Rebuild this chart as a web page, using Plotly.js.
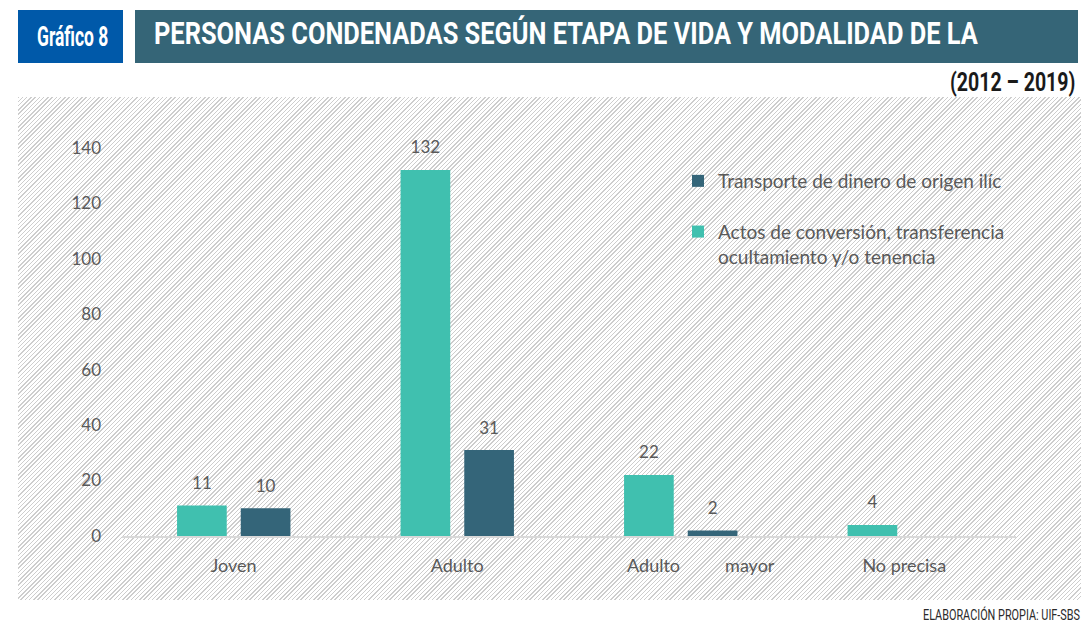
<!DOCTYPE html>
<html>
<head>
<meta charset="utf-8">
<script src="https://cdn.plot.ly/plotly-3.0.1.min.js"></script>
<style>
  html, body { margin: 0; padding: 0; background: #ffffff; }
  #wrap { position: relative; width: 1081px; height: 624px; overflow: hidden; }
  #hatch {
    position: absolute; left: 18px; top: 97px; width: 1063px; height: 503px;
    background: repeating-linear-gradient(135deg, #cdcdcd 0px, #cdcdcd 1px, #ffffff 1px, #ffffff 3px);
  }
  #chart { position: absolute; left: 0; top: 0; width: 1081px; height: 624px; }
  .box { position: absolute; }
  .cond { position: absolute; white-space: nowrap; line-height: 1; font-family: Roboto, 'Noto Sans', sans-serif;
          transform-origin: 0 0; }
</style>
</head>
<body>
<div id="wrap">
  <div id="hatch"></div>
  <div id="chart"></div>
  <div class="box" style="left:18px; top:10px; width:105px; height:53px; background:#0059A9;"></div>
  <div class="box" style="left:135px; top:10px; width:943px; height:53px; background:#356577;"></div>
  <span class="cond" id="badge"  data-x="37"  data-w="71"  style="top:23px; font-size:28px; font-weight:700; color:#ffffff;"></span>
  <span class="cond" id="title"  data-x="154" data-w="824" style="top:17px; font-size:32px; font-weight:700; color:#ffffff;"></span>
  <span class="cond" id="period" data-x="950" data-w="125" style="top:70px; font-size:25px; font-weight:700; color:#1a1a1a;"></span>
  <span class="cond" id="source" data-x="923" data-w="157" style="top:608px; font-size:15px; font-weight:400; color:#2a2a2a;"></span>
</div>
<script>
// ---- data ----
const categories = ["Joven", "Adulto", "Adulto mayor", "No precisa"];
const tickLabels = ["Joven", "Adulto", "\u2002\u2002\u2002\u2002\u00a0Adulto\u2002\u2002\u2002\u2002\u2002mayor", "No precisa"];
const seriesNames = [
  "Actos de conversión, transferencia<br>ocultamiento y/o tenencia",
  "Transporte de dinero de origen ilíc"
];
const actosValues = [11, 132, 22, 4];
const transporteValues = [10, 31, 2, null];
const yTicks = [0, 20, 40, 60, 80, 100, 120, 140];

const titleText = "PERSONAS CONDENADAS SEGÚN ETAPA DE VIDA Y MODALIDAD DE LA";
const badgeText = "Gráfico 8";
const periodText = "(2012 – 2019)";
const sourceText = "ELABORACIÓN PROPIA: UIF-SBS";

// ---- header texts (condensed look via horizontal scaling) ----
[["badge", badgeText], ["title", titleText], ["period", periodText], ["source", sourceText]].forEach(([id, t]) => {
  const el = document.getElementById(id);
  el.textContent = t;
  el.style.left = el.dataset.x + "px";
  const natural = el.offsetWidth;
  el.style.transform = "scaleX(" + (Number(el.dataset.w) / natural) + ")";
});

// ---- chart ----
const W = 1081, H = 624;
const M = { l: 122, r: 65, t: 120, b: 88 };
const PW = W - M.l - M.r, PH = H - M.t - M.b;
const px = x => (x - M.l) / PW;
const py = y => (H - M.b - y) / PH;

const gray = "#595959";
const bodyFont = "Lato, 'Open Sans', sans-serif";
const labelText = arr => arr.map(v => (v === null ? "" : String(v)));

const colors = { actos: "#40C0AF", transporte: "#346579" };

const traces = [
  {
    type: "bar", x: categories, y: actosValues, name: seriesNames[0],
    legendgroup: "actos", legendrank: 2,
    marker: { color: colors.actos },
    hoverinfo: "skip"
  },
  {
    type: "bar", x: categories, y: transporteValues, name: seriesNames[1],
    legendgroup: "transporte", legendrank: 1,
    marker: { color: colors.transporte },
    hoverinfo: "skip"
  },
  {
    type: "scatter", mode: "markers+text", x: categories, y: actosValues,
    text: labelText(actosValues), textposition: "top center", cliponaxis: false,
    marker: { size: 18, opacity: 0, color: colors.actos },
    textfont: { family: bodyFont, size: 17, color: gray },
    showlegend: false, hoverinfo: "skip"
  },
  {
    type: "scatter", mode: "markers+text", x: categories, y: transporteValues,
    text: labelText(transporteValues), textposition: "top center", cliponaxis: false,
    marker: { size: 18, opacity: 0, color: colors.transporte },
    textfont: { family: bodyFont, size: 17, color: gray },
    showlegend: false, hoverinfo: "skip"
  }
];

const layout = {
  width: W, height: H,
  margin: M,
  paper_bgcolor: "rgba(0,0,0,0)",
  plot_bgcolor: "rgba(0,0,0,0)",
  barmode: "group",
  bargap: 0.43,
  bargroupgap: 0.22,
  scattermode: "group",
  scattergap: 0.43,
  font: { family: bodyFont, color: gray, size: 17 },
  xaxis: {
    type: "category",
    tickvals: categories, ticktext: tickLabels,
    showline: true, linecolor: "#d9d9d9", linewidth: 2,
    showgrid: false, zeroline: false, ticks: "",
    tickfont: { family: bodyFont, size: 18, color: gray },
    ticklabelstandoff: 12
  },
  yaxis: {
    range: [0, 150],
    tickvals: yTicks,
    showgrid: false, zeroline: false, showline: false, ticks: "",
    tickfont: { family: bodyFont, size: 17, color: gray },
    ticklabelstandoff: 20
  },
  showlegend: true,
  legend: {
    x: px(678), y: py(162), xanchor: "left", yanchor: "top",
    traceorder: "grouped", tracegroupgap: 23,
    valign: "top",
    bgcolor: "rgba(0,0,0,0)",
    font: { family: bodyFont, size: 19, color: gray }
  }
};

Plotly.newPlot("chart", traces, layout, { staticPlot: true, displayModeBar: false });
</script>
</body>
</html>
